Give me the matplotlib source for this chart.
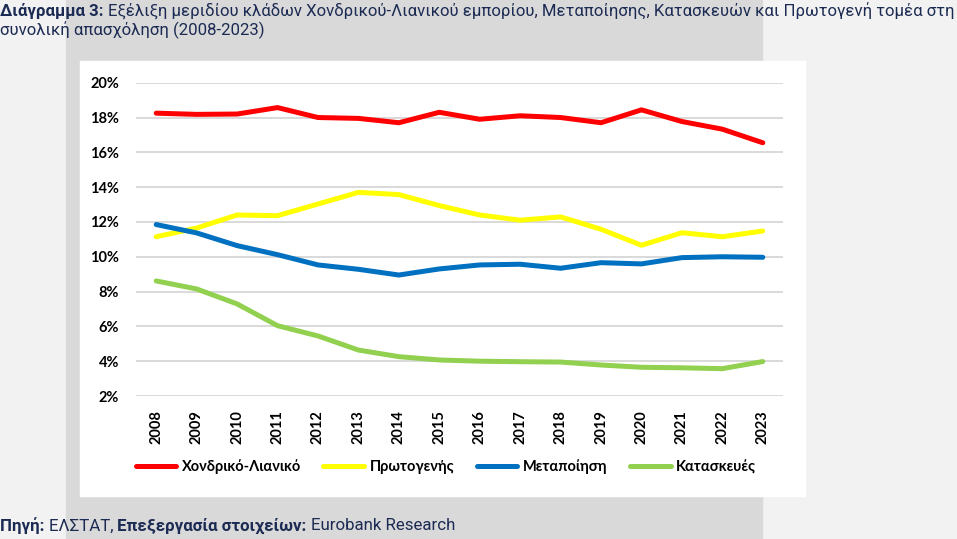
"""Share of sectors in total employment, Greece 2008-2023"""

import matplotlib.pyplot as plt
from matplotlib.patches import Rectangle
from matplotlib.ticker import FuncFormatter

plt.rcParams["font.family"] = ["Lato", "DejaVu Sans"]

# %%
years = [str(y) for y in range(2008, 2024)]
retail = [18.25, 18.18, 18.2, 18.57, 18.0, 17.95, 17.7, 18.3,
          17.9, 18.1, 18.0, 17.7, 18.44, 17.77, 17.33, 16.55]
primary = [11.15, 11.65, 12.4, 12.36, 13.03, 13.7, 13.57, 12.94,
           12.4, 12.1, 12.29, 11.58, 10.66, 11.38, 11.15, 11.48]
manufacturing = [11.85, 11.37, 10.64, 10.12, 9.53, 9.28, 8.95, 9.3,
                 9.53, 9.57, 9.34, 9.66, 9.59, 9.95, 10.0, 9.97]
construction = [8.61, 8.15, 7.29, 6.04, 5.45, 4.64, 4.26, 4.07,
                4.0, 3.97, 3.95, 3.78, 3.65, 3.62, 3.57, 3.98]
labels = ["Χονδρικό-Λιανικό", "Πρωτογενής", "Μεταποίηση", "Κατασκευές"]
colors = ["#ff0000", "#ffff00", "#0070c0", "#92d050"]
yticks = [2, 4, 6, 8, 10, 12, 14, 16, 18, 20]

NAVY = "#1c2b53"
W, H = 957, 539

# %%
fig = plt.figure(figsize=(W / 100, H / 100), dpi=100, facecolor="#f2f2f2")
# grey panel and white chart box (pixel layout)
fig.patches.append(Rectangle((66 / W, 0), (762 - 66) / W, 1,
                             transform=fig.transFigure, color="#d9d9d9", zorder=-2))
fig.patches.append(Rectangle((80 / W, 1 - 496 / H), (805 - 80) / W, (496 - 61) / H,
                             transform=fig.transFigure, color="white", zorder=-1))

ax = fig.add_axes([136 / W, 1 - 396 / H, (783 - 136) / W, (396 - 82.7) / H])
ax.set_facecolor("none")
x = range(len(years))
for series, lab, col in zip([retail, primary, manufacturing, construction], labels, colors):
    ax.plot(x, series, color=col, lw=3.6, label=lab, solid_capstyle="round")

ax.set_xlim(-0.5, len(years) - 0.5)
ax.set_ylim(2, 20)
ax.set_yticks(yticks)
ax.yaxis.set_major_formatter(FuncFormatter(lambda v, p: f"{v:.0f}%"))
ax.set_xticks(list(x))
ax.set_xticklabels(years, rotation=90)
for lab in ax.get_xticklabels() + ax.get_yticklabels():
    lab.set_fontweight("bold")
    lab.set_fontsize(10.5)
ax.tick_params(length=0)
ax.tick_params(axis="x", pad=10)
ax.tick_params(axis="y", pad=12)
ax.grid(axis="y", color="#d9d9d9", lw=1.4)
ax.set_axisbelow(True)
for s in ax.spines.values():
    s.set_visible(False)

leg = fig.legend(loc="center", bbox_to_anchor=(446 / W, 1 - 467 / H), ncol=4,
                 frameon=False, handlelength=2.8, handletextpad=0.4,
                 columnspacing=1.5, prop={"weight": "bold", "size": 10.5})


# %%
def rich_text(pieces, x0, y0, size):
    """Draw bold/regular pieces one after another on a line"""
    r = fig.canvas.get_renderer()
    xp = x0
    for txt, bold in pieces:
        t = fig.text(xp / W, 1 - y0 / H, txt, fontsize=size, color=NAVY,
                     fontweight="bold" if bold else "normal", va="center",
                     family=["Roboto", "DejaVu Sans"])
        xp = t.get_window_extent(r).x1


rich_text([("Διάγραμμα 3: ", True),
           ("Εξέλιξη μεριδίου κλάδων Χονδρικού-Λιανικού εμπορίου, Μεταποίησης, "
            "Κατασκευών και Πρωτογενή τομέα στη", False)], 0, 11, 12.1)
rich_text([("συνολική απασχόληση (2008-2023)", False)], 0, 30, 12.1)
rich_text([("Πηγή: ", True), ("ΕΛΣΤΑΤ, ", False),
           ("Επεξεργασία στοιχείων: ", True), ("Eurobank Research", False)], 0, 526, 12.2)

plt.savefig("out.png", dpi=100, facecolor=fig.get_facecolor())
